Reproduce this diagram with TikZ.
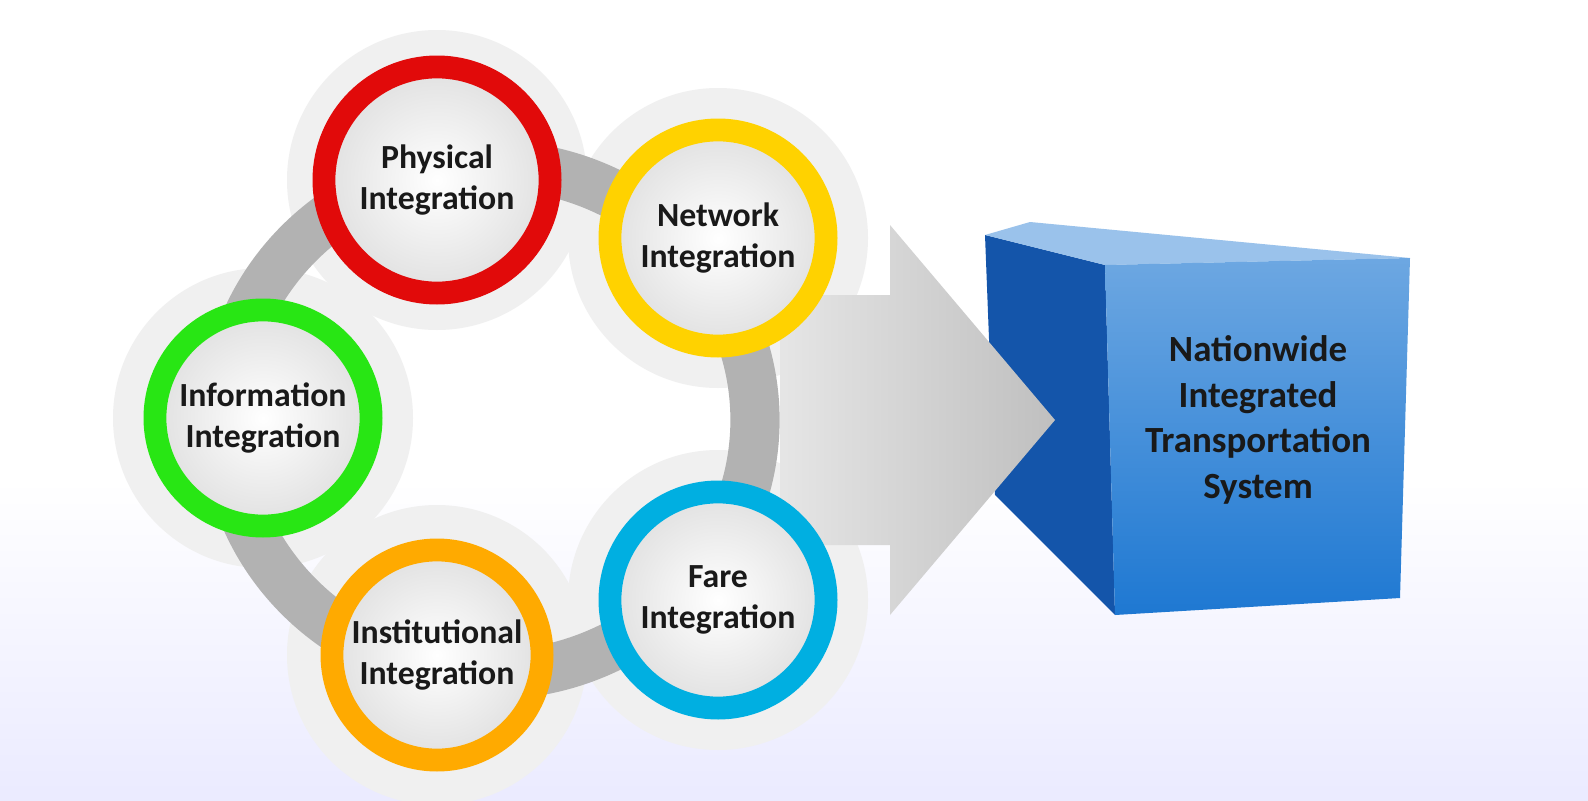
\documentclass[tikz,border=0pt]{standalone}
\usepackage{fontspec}
\setmainfont{Carlito}
\usetikzlibrary{shadings}
\definecolor{cubeblue}{RGB}{30,120,210}
\definecolor{cubedark}{RGB}{20,85,170}
\tikzset{
  halo/.style={fill=black!6},
  ring/.style={line width=6.5pt,inner color=white,outer color=black!12},
  lbl/.style={font=\fontsize{9.6}{11.5}\selectfont\bfseries,align=center,text=black!90}
}
\begin{document}
\begin{tikzpicture}[x=0.01cm,y=-0.01cm]
\useasboundingbox (0,0) rectangle (1588,800);
% background
\fill[white] (0,0) rectangle (1588,800);
\shade[top color=white,bottom color=blue!8] (0,480) rectangle (1588,800);
% halos
\foreach \x/\y in {437/180,718/238,263/418,437/655,718/600}
  \fill[halo] (\x,\y) circle (150);
% big ring
\draw[line width=14pt,black!30] (490,420) ellipse (265 and 255);
% cube
\fill[cubedark] (985,235) -- (1105,265) -- (1115,615) -- (995,495) -- cycle;
\fill[cubeblue!45] (985,235) -- (1030,222) -- (1410,258) -- (1105,265) -- cycle;
\shade[top color=cubeblue!65,bottom color=cubeblue] (1105,265) -- (1410,258) -- (1400,598) -- (1115,615) -- cycle;
\node[lbl,font=\fontsize{10.5}{13}\selectfont\bfseries] (nits) at (1258,420) {Nationwide\\Integrated\\Transportation\\System};
% arrow
\shade[left color=black!10,right color=black!25] (780,295) -- (890,295) -- (890,225) -- (1055,420) -- (890,615) -- (890,545) -- (780,545) -- cycle;
% circles
\node[ring,draw={rgb,255:red,225;green,10;blue,10},circle,minimum size=2.26cm] (phys) at (437,180) {};
\node[lbl] at (phys) {Physical\\Integration};
\node[ring,draw={rgb,255:red,255;green,210;blue,0},circle,minimum size=2.16cm] (netw) at (718,238) {};
\node[lbl] at (netw) {Network\\Integration};
\node[ring,draw={rgb,255:red,40;green,230;blue,20},circle,minimum size=2.16cm] (info) at (263,418) {};
\node[lbl] at (info) {Information\\Integration};
\node[ring,draw={rgb,255:red,255;green,170;blue,0},circle,minimum size=2.1cm] (inst) at (437,655) {};
\node[lbl] at (inst) {Institutional\\Integration};
\node[ring,draw={rgb,255:red,0;green,175;blue,225},circle,minimum size=2.16cm] (fare) at (718,600) {};
\node[lbl] at (fare) {Fare\\Integration};
\end{tikzpicture}
\end{document}
